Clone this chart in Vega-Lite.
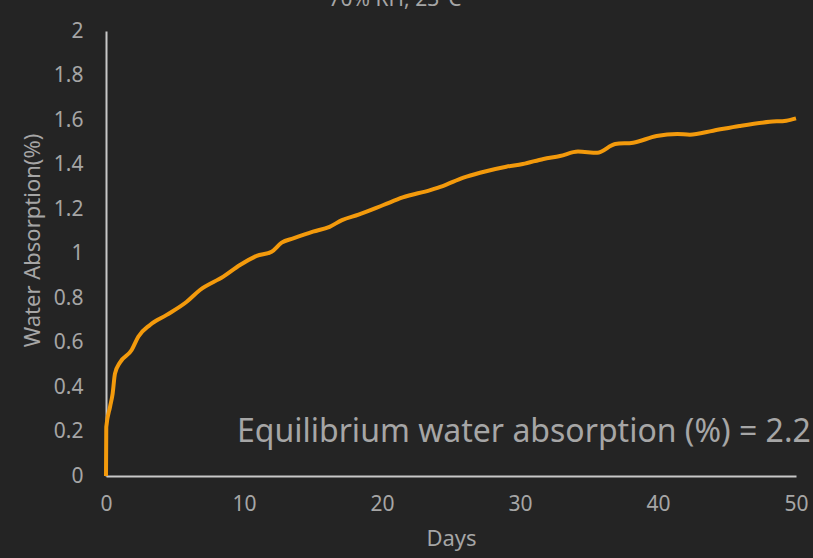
{
  "$schema": "https://vega.github.io/schema/vega-lite/v6.json",
  "width": 690,
  "height": 445,
  "autosize": "none",
  "padding": {"left": 106, "top": 31, "right": 17, "bottom": 82},
  "background": "#242424",
  "config": {
    "view": {"stroke": null},
    "font": "Noto Sans",
    "axis": {
      "grid": false,
      "ticks": false,
      "labelFlush": false,
      "domainColor": "#c8c8c8",
      "domainWidth": 2,
      "labelColor": "#a6a6a6",
      "labelFontSize": 21,
      "labelFont": "Noto Sans",
      "titleColor": "#a6a6a6",
      "titleFontSize": 22,
      "titleFontWeight": "normal",
      "titleFont": "Noto Sans"
    }
  },
  "title": {
    "text": "70% RH, 23°C",
    "color": "#a6a6a6",
    "fontSize": 21,
    "fontWeight": "normal",
    "font": "Noto Sans",
    "anchor": "middle",
    "frame": "group",
    "dx": -56,
    "offset": 10
  },
  "datasets": {
    "curve": [
      {"day": 0, "wa": 0},
      {"day": 0.02, "wa": 0.22},
      {"day": 0.29, "wa": 0.31},
      {"day": 0.48, "wa": 0.37},
      {"day": 0.65, "wa": 0.46},
      {"day": 1.01, "wa": 0.51},
      {"day": 1.86, "wa": 0.566},
      {"day": 2.34, "wa": 0.626},
      {"day": 3.19, "wa": 0.679},
      {"day": 4.4, "wa": 0.724},
      {"day": 5.85, "wa": 0.783},
      {"day": 6.81, "wa": 0.836},
      {"day": 8.5, "wa": 0.896},
      {"day": 9.71, "wa": 0.948},
      {"day": 10.92, "wa": 0.989},
      {"day": 12.0, "wa": 1.008},
      {"day": 12.73, "wa": 1.049},
      {"day": 13.57, "wa": 1.068},
      {"day": 15.0, "wa": 1.098},
      {"day": 16.2, "wa": 1.12},
      {"day": 17.1, "wa": 1.15},
      {"day": 18.3, "wa": 1.175},
      {"day": 20.1, "wa": 1.218},
      {"day": 21.5, "wa": 1.252},
      {"day": 23.5, "wa": 1.285},
      {"day": 24.4, "wa": 1.303},
      {"day": 25.9, "wa": 1.341},
      {"day": 27.1, "wa": 1.363},
      {"day": 29.0, "wa": 1.39},
      {"day": 30.2, "wa": 1.402},
      {"day": 31.7, "wa": 1.425},
      {"day": 32.9, "wa": 1.438},
      {"day": 34.2, "wa": 1.458},
      {"day": 35.6, "wa": 1.453},
      {"day": 36.9, "wa": 1.492},
      {"day": 38.2, "wa": 1.498},
      {"day": 39.9, "wa": 1.528},
      {"day": 41.4, "wa": 1.537},
      {"day": 42.3, "wa": 1.534},
      {"day": 44.0, "wa": 1.552},
      {"day": 45.9, "wa": 1.573},
      {"day": 48.1, "wa": 1.592},
      {"day": 49.3, "wa": 1.597},
      {"day": 50, "wa": 1.607}
    ],
    "note": [
      {"day": 9.49, "wa": 0.153, "label": "Equilibrium water absorption (%) = 2.2"}
    ]
  },
  "layer": [
    {
      "data": {"name": "curve"},
      "mark": {"type": "line", "color": "#f39a0c", "strokeWidth": 4, "interpolate": "monotone"},
      "encoding": {
        "x": {
          "field": "day", "type": "quantitative",
          "scale": {"domain": [0, 50], "nice": false},
          "axis": {"values": [0, 10, 20, 30, 40, 50], "title": "Days", "labelPadding": 17, "titlePadding": 14, "format": "~g"}
        },
        "y": {
          "field": "wa", "type": "quantitative",
          "scale": {"domain": [0, 2], "nice": false},
          "axis": {"values": [0, 0.2, 0.4, 0.6, 0.8, 1, 1.2, 1.4, 1.6, 1.8, 2], "title": "Water Absorption(%)", "labelPadding": 23, "titlePadding": 9, "titleY": 209, "format": "~g"}
        }
      }
    },
    {
      "data": {"name": "note"},
      "mark": {"type": "text", "align": "left", "baseline": "alphabetic", "fontSize": 32, "color": "#a6a6a6", "font": "Noto Sans"},
      "encoding": {
        "x": {"field": "day", "type": "quantitative"},
        "y": {"field": "wa", "type": "quantitative"},
        "text": {"field": "label"}
      }
    }
  ]
}
